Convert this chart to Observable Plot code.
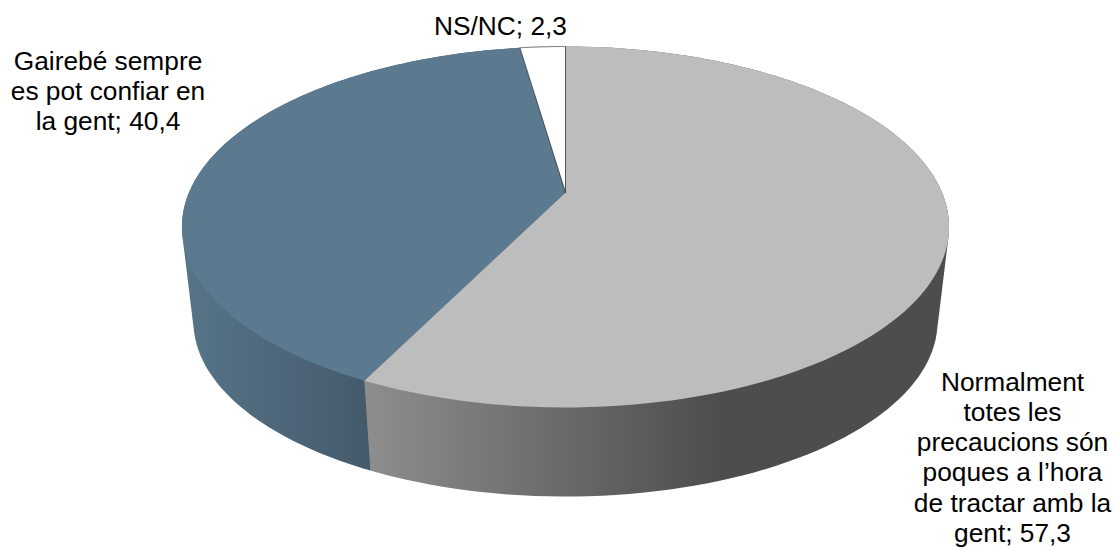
<!DOCTYPE html>
<html>
<head>
<meta charset="utf-8">
<script src="https://cdn.jsdelivr.net/npm/d3@7"></script>
<script src="https://cdn.jsdelivr.net/npm/@observablehq/plot@0.6"></script>
<style>html,body{margin:0;padding:0;background:#fff}svg{display:block}</style>
</head>
<body>
<div id="chart"></div>
<script>
const categories = ["Normalment totes les precaucions són poques a l’hora de tractar amb la gent", "Gairebé sempre es pot confiar en la gent", "NS/NC"];
const values = [57.3, 40.4, 2.3];
const labels = [
  "Normalment\ntotes les\nprecaucions són\npoques a l’hora\nde tractar amb la\ngent; 57,3",
  "Gairebé sempre\nes pot confiar en\nla gent; 40,4",
  "NS/NC; 2,3"
];
const labelX = [1012, 107.5, 500];
const labelY = [456, 90, 25];
const topColors = ["#bdbdbd", "#5b7a90", "#ffffff"];
const sideColors = ["url(#sideGrey)", "url(#sideBlue)", "#e0e0e0"];

// Perspective pie geometry (in the 1115x548 plane used by the x and y scales)
const cx = 565, cy = 192, b = 376.5, a = 173.9, k = 0.191;
const ellipseCy = 226.5, bottomCy = 321, bottomScale = 0.97;
const topPoint = t => {
  const s = Math.sin(t), c = Math.cos(t), d = 1 + k * c;
  return [cx + b * s / d, cy - a * c / d];
};
const bottomPoint = t => {
  const [x, y] = topPoint(t);
  return [cx + bottomScale * (x - cx), bottomCy + bottomScale * (y - ellipseCy)];
};
const total = d3.sum(values);
let acc = 0;
const slices = values.map((v, i) => {
  const t0 = acc / total * 2 * Math.PI;
  acc += v;
  const t1 = acc / total * 2 * Math.PI;
  const ts = d3.range(0, 121).map(j => t0 + (t1 - t0) * j / 120);
  return {i, ts};
});
const toRows = pts => pts.map(([x, y]) => ({x, y}));
const facePolygon = s => toRows([[cx, cy], ...s.ts.map(topPoint), [cx, cy]]);
const sidePolygon = s => {
  const hull = d3.polygonHull([...s.ts.map(topPoint), ...s.ts.map(bottomPoint)]);
  return toRows([...hull, hull[0]]);
};

const gradients = () => {
  const defs = d3.create("svg:defs");
  const add = (id, x1, x2, stops) => {
    const g = defs.append("linearGradient").attr("id", id)
      .attr("gradientUnits", "userSpaceOnUse")
      .attr("x1", x1).attr("x2", x2).attr("y1", 0).attr("y2", 0);
    stops.forEach(([o, c]) => g.append("stop").attr("offset", o).attr("stop-color", c));
  };
  add("sideGrey", 364, 720, [[0, "#8e8e8e"], [1, "#4d4d4d"]]);
  add("sideBlue", 185, 370, [[0, "#577488"], [1, "#445a6b"]]);
  return defs.node();
};

const lineOpts = fill => ({x: "x", y: "y", fill, stroke: "none", curve: "linear"});

const chart = Plot.plot({
  width: 1115,
  height: 548,
  margin: 0,
  x: {domain: [0, 1115], range: [0, 1115], axis: null},
  y: {domain: [0, 548], range: [0, 548], axis: null},
  style: {background: "#fff"},
  marks: [
    gradients,
    // sides: blue first so the grey side overlaps it along the seam
    Plot.line(sidePolygon(slices[1]), lineOpts(sideColors[1])),
    Plot.line(sidePolygon(slices[0]), lineOpts(sideColors[0])),
    // top faces
    Plot.line(facePolygon(slices[0]), lineOpts(topColors[0])),
    Plot.line(facePolygon(slices[1]), lineOpts(topColors[1])),
    Plot.line(facePolygon(slices[2]), {x: "x", y: "y", fill: topColors[2], stroke: "#333", strokeWidth: 0.8, curve: "linear"}),
    Plot.text(labels, {
      x: (d, i) => labelX[i],
      y: (d, i) => labelY[i],
      text: d => d,
      textAnchor: "middle",
      lineAnchor: "middle",
      lineHeight: 1.15,
      fontSize: 26.3,
      fontFamily: "'Liberation Sans', Arial, sans-serif",
      fill: "#000"
    })
  ]
});
document.getElementById("chart").append(chart);
</script>
</body>
</html>
